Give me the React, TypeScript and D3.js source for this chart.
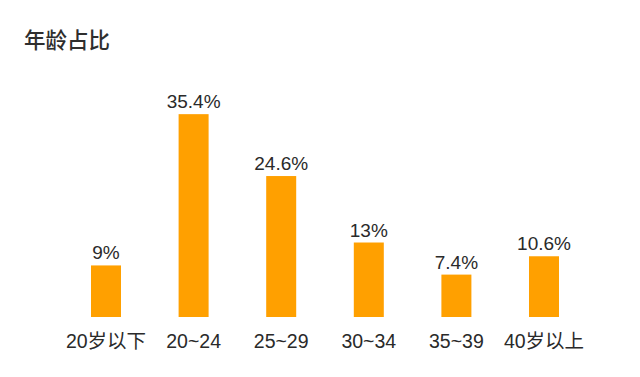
import React from "react";
import * as d3 from "d3";

const categories = ["20岁以下", "20~24", "25~29", "30~34", "35~39", "40岁以上"];
const values = [9, 35.4, 24.6, 13, 7.4, 10.6];
const valueLabels = ["9%", "35.4%", "24.6%", "13%", "7.4%", "10.6%"];
const title = "年龄占比";

const W = 640;
const H = 377;
const FONT = '"Liberation Sans", Arial, "Noto Sans CJK SC", sans-serif';

export default function App() {
  const x = d3.scalePoint<string>().domain(categories).range([106, 544]);
  const y = d3.scaleLinear().domain([0, 40]).range([317, 87.8]);
  const barW = 30;
  return (
    <svg
      width={W}
      height={H}
      style={{ position: "absolute", left: 0, top: 0, background: "#fff" }}
    >
      <rect width={W} height={H} fill="#fff" />
      <text x={24} y={47.5} fontFamily={FONT} fontSize={21.5} fontWeight={500} fill="#2e2e2e">
        {title}
      </text>
      {categories.map((c, i) => {
        const cx = x(c)!;
        const top = y(values[i]);
        return (
          <g key={c}>
            <rect x={cx - barW / 2} y={top} width={barW} height={y(0) - top} fill="#FFA000" />
            <text
              x={cx}
              y={top - 6}
              textAnchor="middle"
              fontFamily={FONT}
              fontSize={19}
              fill="#2a2a2a"
            >
              {valueLabels[i]}
            </text>
            <text
              x={cx}
              y={347.5}
              textAnchor="middle"
              fontFamily={FONT}
              fontSize={19.5}
              fill="#2a2a2a"
            >
              {c}
            </text>
          </g>
        );
      })}
    </svg>
  );
}
